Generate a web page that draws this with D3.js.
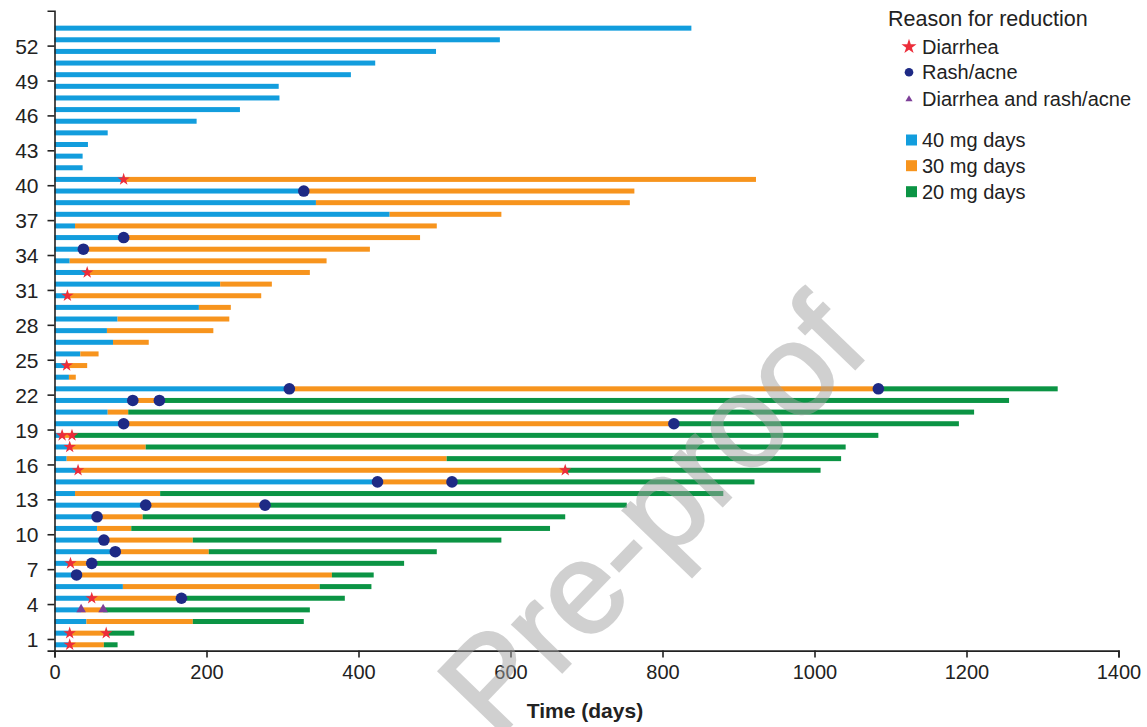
<!DOCTYPE html>
<html><head><meta charset="utf-8">
<script src="https://cdn.jsdelivr.net/npm/d3@7"></script>
<style>
body{margin:0;background:#fff;}
svg{display:block;font-family:"Liberation Sans",Arial,Helvetica,sans-serif;}
</style>
</head><body>
<svg id="chart" width="1147" height="727"></svg>
<script>
// ---- data (days) ----
const patientIds = [1,2,3,4,5,6,7,8,9,10,11,12,13,14,15,16,17,18,19,20,21,22,23,24,25,26,27,
  28,29,30,31,32,33,34,35,36,37,38,39,40,41,42,43,44,45,46,47,48,49,50,51,52,53,54];
// day on which each dose period ends (null = period not reached)
const dose40End = [20,20,42,35,49,90,29,21,80,65,56,56,120,27,425,31,16,20,10,91,70,103,309,
  19,16,34,77,69,83,190,17,218,43,20,38,91,27,441,344,328,91,
  37,37,44,70,187,244,296,295,390,422,502,586,838];
const dose30End = [65,68,182,64,167,349,365,49,203,182,101,116,277,139,523,672,516,120,23,815,97,138,1084,
  28,43,58,124,209,230,232,272,286,336,358,415,481,503,588,757,763,923,
  null,null,null,null,null,null,null,null,null,null,null,null,null];
const dose20End = [83,105,328,336,382,417,420,460,503,588,652,672,753,880,921,1008,1035,1041,1084,1190,1210,1256,1320,
  null,null,null,null,null,null,null,null,null,null,null,null,null,null,null,null,null,null,
  null,null,null,null,null,null,null,null,null,null,null,null,null];

const markerPatient = [1,2,2,5,8,16,16,18,19,19,25,31,33,41,
  5,7,8,9,10,12,13,13,15,15,20,20,22,22,23,23,35,36,40,
  4,4];
const markerDay = [20,20,68,49,21,31,672,20,10,23,16,17,43,91,
  167,29,49,80,65,56,120,277,425,523,91,815,103,138,309,1084,38,91,328,
  35,64];
const markerType = ["d","d","d","d","d","d","d","d","d","d","d","d","d","d",
  "r","r","r","r","r","r","r","r","r","r","r","r","r","r","r","r","r","r","r",
  "b","b"];

const xTicks = [0,200,400,600,800,1000,1200,1400];
const yTicks = [1,4,7,10,13,16,19,22,25,28,31,34,37,40,43,46,49,52];
const reasonLabels = ["Diarrhea","Rash/acne","Diarrhea and rash/acne"];
const reasonKeys = ["d","r","b"];
const doseLabels = ["40 mg days","30 mg days","20 mg days"];
const doseKeys = ["40","30","20"];

// ---- styles ----
const doseColor = {"40":"#129ddd","30":"#f7941d","20":"#0b9444"};
const markColor = {"d":"#ec2d3a","r":"#1e2a85","b":"#7d3f98"};

const svg = d3.select("#chart");
const x = d3.scaleLinear().domain([0,1400]).range([54.5,1118.5]);
const y = d3.scaleLinear().domain([0,55]).range([650.6,10.7]);
const barH = 5;

// segments
const segs = [];
patientIds.forEach((id,i)=>{
  let start = 0;
  [[dose40End[i],"40"],[dose30End[i],"30"],[dose20End[i],"20"]].forEach(([end,k])=>{
    if(end!=null){ segs.push({id,start,end,k}); start=end; }
  });
});

svg.append("g").selectAll("rect").data(segs).join("rect")
  .attr("x",d=>x(d.start))
  .attr("width",d=>x(d.end)-x(d.start))
  .attr("y",d=>y(d.id-0.5)-barH/2)
  .attr("height",barH)
  .attr("fill",d=>doseColor[d.k]);

// markers
const markers = markerPatient.map((p,i)=>({p,day:markerDay[i],t:markerType[i]}));
const symSize = {"d":48,"r":0,"b":40};
const mg = svg.append("g");
markers.forEach(m=>{
  if(m.t==="r"){
    mg.append("circle").attr("cx",x(m.day)).attr("cy",y(m.p-0.5)).attr("r",5.8).attr("fill",markColor.r);
  } else {
    const sym = m.t==="d"?d3.symbolStar:d3.symbolTriangle;
    mg.append("path").attr("d",d3.symbol(sym,symSize[m.t])())
      .attr("transform",`translate(${x(m.day)},${y(m.p-0.5)+(m.t==="b"?-0.5:0)})`)
      .attr("fill",markColor[m.t]);
  }
});

// axes
const xAxis = svg.append("g").attr("transform",`translate(0,${y(0)})`)
  .call(d3.axisBottom(x).tickValues(xTicks).tickFormat(d3.format("d")).tickSize(7).tickSizeOuter(7).tickPadding(7));
const yAxis = svg.append("g").attr("transform",`translate(${x(0)},0)`)
  .call(d3.axisLeft(y).tickValues(yTicks).tickSize(7).tickSizeOuter(7).tickPadding(9));
[xAxis,yAxis].forEach(a=>{
  a.selectAll("path,line").attr("stroke","#222").attr("stroke-width",1.6);
  a.selectAll("text").attr("fill","#222").style("font-family","'Liberation Sans',Arial,sans-serif");
});
xAxis.selectAll("text").style("font-size","20px");
yAxis.selectAll("text").style("font-size","21px").attr("dy","0.36em");

svg.append("text").attr("x",585).attr("y",718).attr("text-anchor","middle")
  .style("font-size","21px").style("font-weight","bold").attr("fill","#222").text("Time (days)");

// legend
const lg = svg.append("g");
lg.append("text").attr("x",888).attr("y",26).style("font-size","21.5px").attr("fill","#222").text("Reason for reduction");
const ry = [46.7,72.3,99.3];
reasonKeys.forEach((k,i)=>{
  if(k==="r") lg.append("circle").attr("cx",909).attr("cy",ry[i]).attr("r",4.3).attr("fill",markColor.r);
  else lg.append("path").attr("d",d3.symbol(k==="d"?d3.symbolStar:d3.symbolTriangle,k==="d"?70:22)())
    .attr("transform",`translate(909,${ry[i]})`).attr("fill",markColor[k]);
  lg.append("text").attr("x",922).attr("y",ry[i]+7).style("font-size","20px").attr("fill","#222").text(reasonLabels[i]);
});
const dy = [140,165.7,191.7];
doseKeys.forEach((k,i)=>{
  lg.append("rect").attr("x",906).attr("y",dy[i]-5.5).attr("width",11).attr("height",11).attr("fill",doseColor[k]);
  lg.append("text").attr("x",922).attr("y",dy[i]+7).style("font-size","20px").attr("fill","#222").text(doseLabels[i]);
});

// watermark
svg.append("text").attr("transform","translate(684,546) rotate(-46)")
  .attr("text-anchor","middle").style("font-size","130px")
  .attr("fill","#a3a3a3").attr("stroke","#a3a3a3").attr("stroke-width",2.5)
  .attr("opacity",0.5).text("Pre-proof");
</script>
</body></html>
